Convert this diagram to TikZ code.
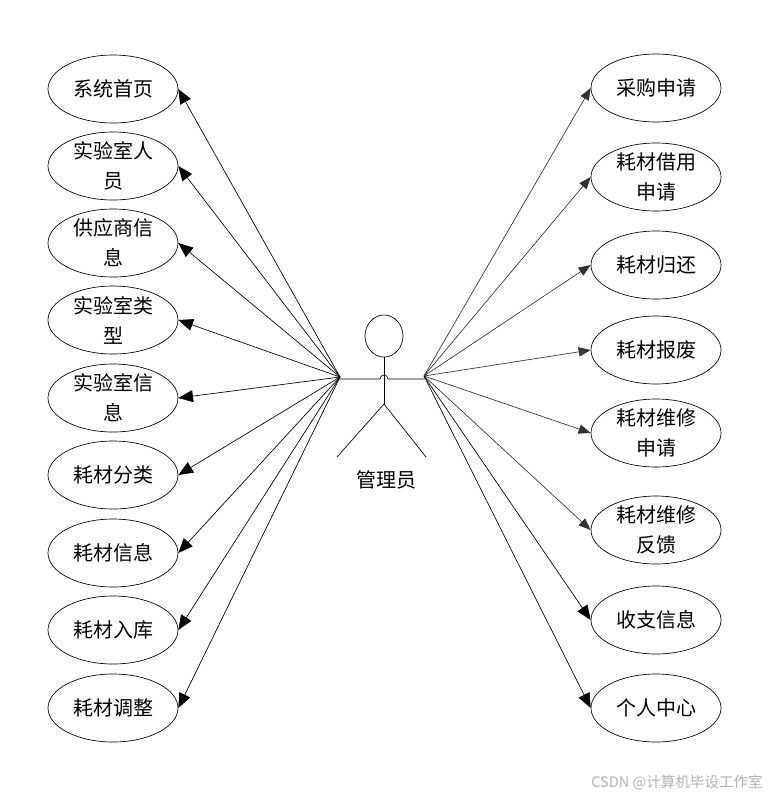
\documentclass[tikz,border=0pt]{standalone}
\usepackage{fontspec}
\usetikzlibrary{arrows.meta,shapes.geometric}
\newfontfamily\cjk{Noto Sans CJK SC}
\tikzset{
usecase/.style={draw,ellipse,minimum width=97.5pt,minimum height=51pt,inner xsep=0pt,inner ysep=-12pt,align=center,font=\cjk\fontsize{15}{22.5}\selectfont},
bigtip/.style={-{Triangle[length=11pt,width=9pt]}},
smalltip/.style={draw=black!80,-{Triangle[length=9pt,width=7pt]}}
}
\begin{document}
\begin{tikzpicture}[x=0.75pt,y=-0.75pt,line width=0.5pt]
\useasboundingbox (0,0) rectangle (770,797);

\node[usecase](a1)at(113,89){系统首页};
\node[usecase](a2)at(113,166){实验室人\\员};
\node[usecase](a3)at(113,243){供应商信\\息};
\node[usecase](a4)at(113,320){实验室类\\型};
\node[usecase](a5)at(113,398){实验室信\\息};
\node[usecase](a6)at(113,475){耗材分类};
\node[usecase](a7)at(113,553){耗材信息};
\node[usecase](a8)at(113,630){耗材入库};
\node[usecase](a9)at(113,708){耗材调整};

\node[usecase](b1)at(656,88){采购申请};
\node[usecase](b2)at(656,177){耗材借用\\申请};
\node[usecase](b3)at(656,265){耗材归还};
\node[usecase](b4)at(656,350){耗材报废};
\node[usecase](b5)at(656,433){耗材维修\\申请};
\node[usecase](b6)at(656,530){耗材维修\\反馈};
\node[usecase](b7)at(656,620){收支信息};
\node[usecase](b8)at(656,708){个人中心};

\node[draw,ellipse,minimum width=28.5pt,minimum height=31.5pt,inner sep=0pt](head)at(384,336){};
\coordinate(handl)at(340,377);
\coordinate(handr)at(424,376);
\coordinate(arml)at(339,379);
\coordinate(armr)at(425,379);
\coordinate(hipp)at(384,404);
\coordinate(footl)at(337,457);
\coordinate(footr)at(426,457);
\node[font=\cjk\fontsize{15}{22.5}\selectfont](actor)at(386,480){管理员};

\draw(head.south)--(hipp);
\draw(hipp)--(footl);
\draw(hipp)--(footr);
\draw(arml)--(380,379)arc[start angle=180,end angle=360,radius=4]--(armr);

\path(handl)edge[bigtip](a1.east)
(handl)edge[bigtip](a2.east)
(handl)edge[bigtip](a3.east)
(handl)edge[bigtip](a4.east)
(handl)edge[bigtip](a5.east)
(handl)edge[bigtip](a6.east)
(handl)edge[bigtip](a7.east)
(handl)edge[bigtip](a8.east)
(handl)edge[bigtip](a9.east);

\path(handr)edge[smalltip](b1.west)
(handr)edge[smalltip](b2.west)
(handr)edge[smalltip](b3.west)
(handr)edge[smalltip](b4.west)
(handr)edge[smalltip](b5.west)
(handr)edge[smalltip](b6.west)
(handr)edge[bigtip](b7.west)
(handr)edge[bigtip](b8.west);

\node[text=black!30,font=\cjk\fontsize{10.9}{12}\selectfont](mark)at(677,783){CSDN @计算机毕设工作室};

\end{tikzpicture}
\end{document}
